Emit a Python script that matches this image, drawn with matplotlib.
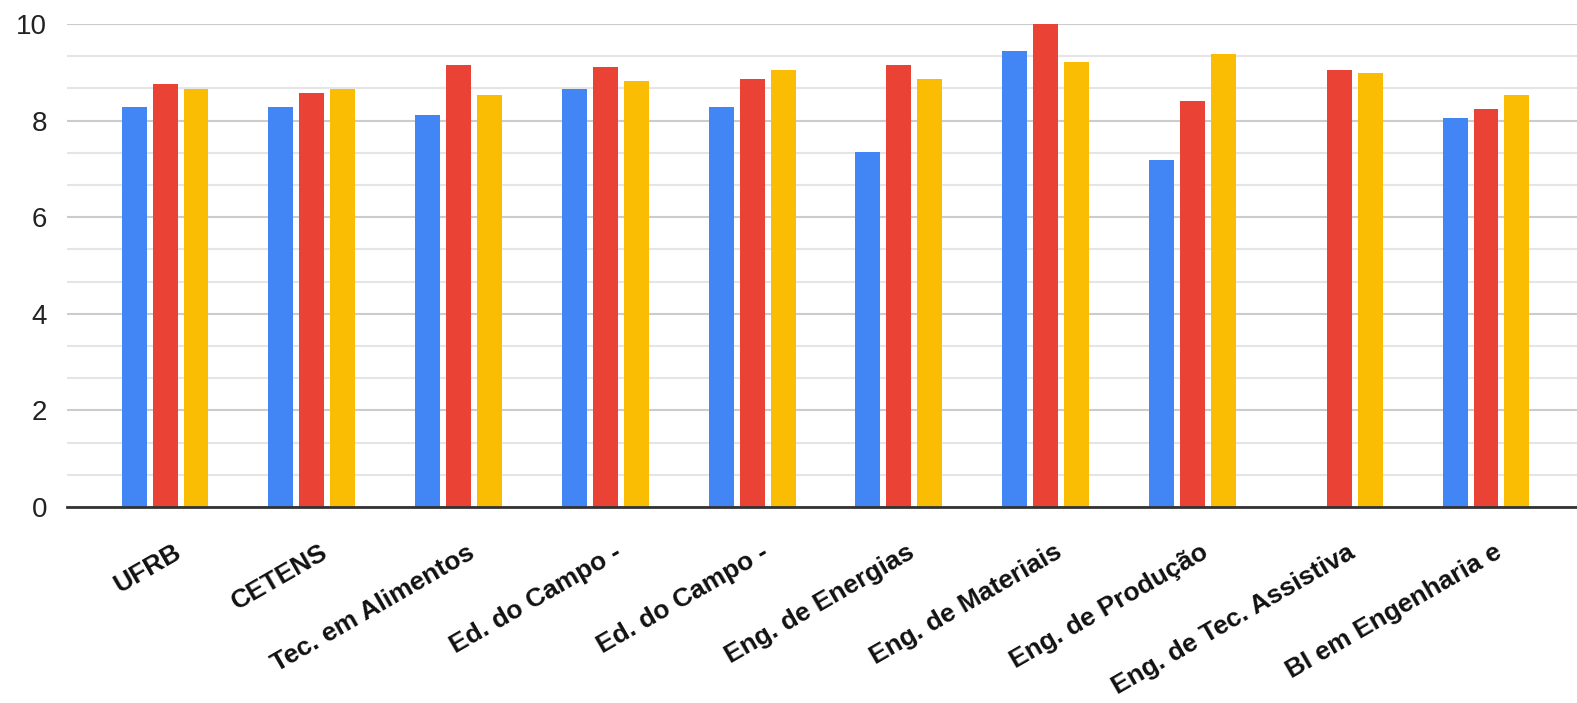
import numpy as np
import matplotlib
matplotlib.use("Agg")
import matplotlib.pyplot as plt
from matplotlib.ticker import MultipleLocator
from matplotlib.transforms import ScaledTranslation

# dados
cursos = ["UFRB", "CETENS", "Tec. em Alimentos", "Ed. do Campo -", "Ed. do Campo -",
          "Eng. de Energias", "Eng. de Materiais", "Eng. de Produção",
          "Eng. de Tec. Assistiva", "BI em Engenharia e"]
serie_azul = [8.29, 8.29, 8.12, 8.65, 8.29, 7.35, 9.45, 7.19, np.nan, 8.06]
serie_vermelha = [8.76, 8.58, 9.16, 9.10, 8.87, 9.16, 10.0, 8.40, 9.04, 8.24]
serie_amarela = [8.65, 8.65, 8.52, 8.81, 9.04, 8.87, 9.22, 9.38, 8.98, 8.52]

cores = ["#4285F4", "#EA4335", "#FBBC04"]

plt.rcParams['font.family'] = ['Liberation Sans', 'DejaVu Sans']

fig = plt.figure(figsize=(15.77, 7.03), dpi=100)
ax = fig.add_axes([0.0423, 0.2788, 0.9577, 0.6871])

x = np.arange(len(cursos))
larg = 0.17
passo = 0.211
for k, (serie, cor) in enumerate(zip([serie_azul, serie_vermelha, serie_amarela], cores)):
    ax.bar(x + (k - 1) * passo, serie, width=larg, color=cor, zorder=3)

ax.set_ylim(0, 10)
ax.set_xlim(-0.67, 9.62)
ax.yaxis.set_major_locator(MultipleLocator(2))
ax.yaxis.set_minor_locator(MultipleLocator(2 / 3))
ax.grid(axis='y', which='major', color='#cccccc', lw=1.5, zorder=0)
ax.grid(axis='y', which='minor', color='#e5e5e5', lw=1.5, zorder=0)
ax.tick_params(axis='y', which='both', length=0, labelsize=20, pad=14, labelcolor='#222222')
ax.tick_params(axis='x', length=0, pad=14)

for s in ['top', 'right', 'left']:
    ax.spines[s].set_visible(False)
ax.spines['bottom'].set_color('#333333')
ax.spines['bottom'].set_linewidth(2)
ax.spines['bottom'].set_zorder(4)

ax.set_xticks(x)
ax.set_xticklabels(cursos, rotation=30, ha='right', va='center', rotation_mode='anchor',
                   fontsize=19, fontweight='bold', color='#111111')
desloc = ScaledTranslation(14 / 100, -24 / 100, fig.dpi_scale_trans)
for lbl in ax.get_xticklabels():
    lbl.set_transform(lbl.get_transform() + desloc)

plt.savefig("out.png", dpi=100)
